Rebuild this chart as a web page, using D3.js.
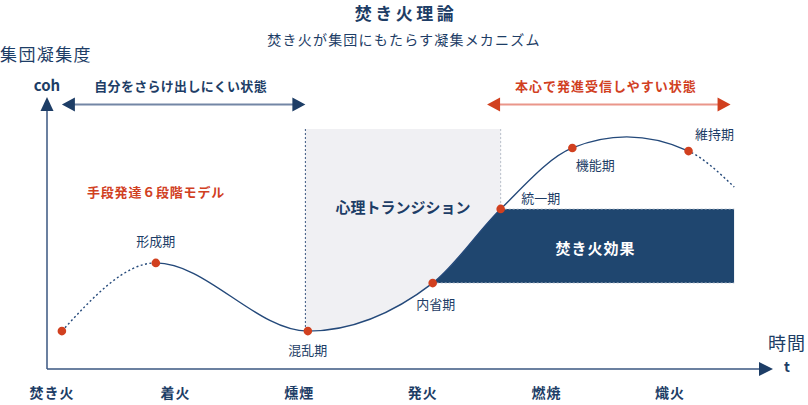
<!DOCTYPE html>
<html>
<head>
<meta charset="utf-8">
<script src="https://cdn.jsdelivr.net/npm/d3@7"></script>
<style>
    body { margin: 0; background: #fff; }
    text { font-family: "Noto Sans CJK JP", "Noto Sans", sans-serif; }
</style>
</head>
<body>
<div id="chart"></div>
<script>
// chart values
const stageLabels = ['焚き火', '着火', '燻煙', '発火', '燃焼', '熾火'];
const phaseNames = ['', '形成期', '混乱期', '内省期', '統一期', '機能期', '', '維持期', ''];
const phaseTime = [0.08, 0.84, 2.07, 3.08, 3.63, 4.21, 4.65, 5.15, 5.52];
const phaseCoh = [15.8, 44.2, 15.8, 35.8, 66.7, 92.1, 96.7, 90.8, 75.8];
const rangeLabels = ['自分をさらけ出しにくい状態', '本心で発進受信しやすい状態'];
const rangeStart = [0.08, 3.52];
const rangeEnd = [2.05, 5.49];

// set the area for the SVG element
const svgWidth = 808;
const svgHeight = 405;

var navy = '#1d3d66';
var fillNavy = '#1f466f';
var red = '#d1401f';

var svg = d3.select('#chart')
    .append('svg')
    .attr('width', svgWidth)
    .attr('height', svgHeight);

// scales: stage ticks sit on whole numbers
var xScale = d3.scaleLinear()
    .domain([0, 5])
    .range([52, 670]);

var yScale = d3.scaleLinear()
    .domain([0, 100])
    .range([369, 129]);

var originX = 47;
var originY = 369;

var points = phaseTime.map((t, i) => ({ t: t, c: phaseCoh[i], name: phaseNames[i] }));

var curveLine = d3.line()
    .x(d => xScale(d.t))
    .y(d => yScale(d.c))
    .curve(d3.curveMonotoneX);

var defs = svg.append('defs');

function clipRect(id, x0, x1, y0, y1) {
    defs.append('clipPath').attr('id', id)
        .append('rect')
        .attr('x', x0).attr('y', y0)
        .attr('width', x1 - x0).attr('height', y1 - y0);
}

var xTransStart = rangeEnd[0];
var xTransEnd = phaseTime[4];

// grey transition zone above the curve
clipRect('clipTrans', xScale(xTransStart), xScale(xTransEnd), 0, svgHeight);
svg.append('path')
    .datum(points)
    .attr('clip-path', 'url(#clipTrans)')
    .attr('fill', '#f0f0f3')
    .attr('d', d3.area()
        .x(d => xScale(d.t))
        .y0(yScale(100))
        .y1(d => yScale(d.c))
        .curve(d3.curveMonotoneX));

// navy effect block below the curve
clipRect('clipEffect', xScale(phaseTime[3]), xScale(phaseTime[8]), yScale(phaseCoh[4]), yScale(phaseCoh[3]));
svg.append('path')
    .datum(points)
    .attr('clip-path', 'url(#clipEffect)')
    .attr('fill', fillNavy)
    .attr('d', d3.area()
        .x(d => xScale(d.t))
        .y0(originY)
        .y1(d => yScale(d.c))
        .curve(d3.curveMonotoneX));

// dotted edges of the effect block
svg.append('line')
    .attr('x1', xScale(phaseTime[4])).attr('x2', xScale(phaseTime[8]))
    .attr('y1', yScale(phaseCoh[4])).attr('y2', yScale(phaseCoh[4]))
    .attr('stroke', '#c9d0da').attr('stroke-dasharray', '2,2');
svg.append('line')
    .attr('x1', xScale(phaseTime[3])).attr('x2', xScale(phaseTime[8]))
    .attr('y1', yScale(phaseCoh[3])).attr('y2', yScale(phaseCoh[3]))
    .attr('stroke', '#c9d0da').attr('stroke-dasharray', '2,2');

// zone borders
svg.append('line')
    .attr('x1', xScale(xTransStart)).attr('x2', xScale(xTransStart))
    .attr('y1', yScale(100)).attr('y2', yScale(phaseCoh[2]))
    .attr('stroke', '#3a5680').attr('stroke-dasharray', '2,2');
svg.append('line')
    .attr('x1', xScale(xTransEnd)).attr('x2', xScale(xTransEnd))
    .attr('y1', yScale(100)).attr('y2', yScale(phaseCoh[4]))
    .attr('stroke', '#b8bfca').attr('stroke-dasharray', '2,2');

// the curve: dotted at both ends, solid in the middle
var solidFrom = xScale(phaseTime[1]);
var solidTo = xScale(phaseTime[7]);
clipRect('clipA', 0, solidFrom, 0, svgHeight);
clipRect('clipB', solidFrom, solidTo, 0, svgHeight);
clipRect('clipC', solidTo, svgWidth, 0, svgHeight);

[['clipA', '2,2.5'], ['clipB', null], ['clipC', '2,2.5']].forEach(function(c) {
    svg.append('path')
        .datum(points)
        .attr('clip-path', `url(#${c[0]})`)
        .attr('fill', 'none')
        .attr('stroke', '#24497a')
        .attr('stroke-width', 1.4)
        .attr('stroke-dasharray', c[1])
        .attr('d', curveLine);
});

// phase dots
var named = points.filter((d, i) => i === 0 || d.name !== '');
svg.selectAll('circle.phase')
    .data(named)
    .enter()
    .append('circle')
    .attr('class', 'phase')
    .attr('cx', d => xScale(d.t))
    .attr('cy', d => yScale(d.c))
    .attr('r', 4.3)
    .attr('fill', red);

// phase labels (offset from their dot)
var labelOffset = {
    '形成期': [0, -17],
    '混乱期': [0, 24],
    '内省期': [3, 26],
    '統一期': [40, -6],
    '機能期': [23, 22],
    '維持期': [26, -12]
};
svg.selectAll('text.phase')
    .data(points.filter(d => d.name !== ''))
    .enter()
    .append('text')
    .attr('class', 'phase')
    .attr('x', d => xScale(d.t) + labelOffset[d.name][0])
    .attr('y', d => yScale(d.c) + labelOffset[d.name][1])
    .attr('text-anchor', 'middle')
    .style('font-size', '13px')
    .style('fill', navy)
    .text(d => d.name);

// axes
svg.append('line')
    .attr('x1', originX).attr('x2', originX)
    .attr('y1', originY).attr('y2', 108)
    .attr('stroke', '#3a5680').attr('stroke-width', 1.5);
svg.append('path')
    .attr('d', `M${originX - 6.5},111 L${originX + 6.5},111 L${originX},97 Z`)
    .attr('fill', navy);
svg.append('line')
    .attr('x1', originX).attr('x2', 762)
    .attr('y1', originY).attr('y2', originY)
    .attr('stroke', '#3a5680').attr('stroke-width', 1.5);
svg.append('path')
    .attr('d', `M759,${originY - 7} L759,${originY + 7} L773,${originY} Z`)
    .attr('fill', navy);

// stage labels under the x axis
svg.selectAll('text.stage')
    .data(stageLabels)
    .enter()
    .append('text')
    .attr('class', 'stage')
    .attr('x', (d, i) => xScale(i))
    .attr('y', 398)
    .attr('text-anchor', 'middle')
    .style('font-size', '14px')
    .style('font-weight', 'bold')
    .style('letter-spacing', '1px')
    .style('fill', navy)
    .text(d => d);

// double headed range arrows
var arrowColors = [['#7386a5', navy], ['#ea968a', red]];
rangeLabels.forEach(function(label, i) {
    var x0 = xScale(rangeStart[i]);
    var x1 = xScale(rangeEnd[i]);
    var ay = 104.5;
    svg.append('line')
        .attr('x1', x0 + 10).attr('x2', x1 - 10)
        .attr('y1', ay).attr('y2', ay)
        .attr('stroke', arrowColors[i][0]).attr('stroke-width', 2);
    svg.append('path')
        .attr('d', `M${x0},${ay} L${x0 + 13},${ay - 7} L${x0 + 13},${ay + 7} Z M${x1},${ay} L${x1 - 13},${ay - 7} L${x1 - 13},${ay + 7} Z`)
        .attr('fill', arrowColors[i][1]);
    svg.append('text')
        .attr('x', (x0 + x1) / 2 - 3)
        .attr('y', 91)
        .attr('text-anchor', 'middle')
        .style('font-size', '13px')
        .style('font-weight', 'bold')
        .style('letter-spacing', i === 0 ? '0.3px' : '1px')
        .style('fill', arrowColors[i][1])
        .text(label);
});

// titles and axis labels
svg.append('text')
    .attr('x', 406).attr('y', 20)
    .attr('text-anchor', 'middle')
    .style('font-size', '17px').style('font-weight', 'bold')
    .style('letter-spacing', '3.5px')
    .style('fill', navy)
    .text('焚き火理論');

svg.append('text')
    .attr('x', 404).attr('y', 45)
    .attr('text-anchor', 'middle')
    .style('font-size', '14px')
    .style('letter-spacing', '1.2px')
    .style('fill', navy)
    .text('焚き火が集団にもたらす凝集メカニズム');

svg.append('text')
    .attr('x', 0).attr('y', 61)
    .style('font-size', '17px')
    .style('letter-spacing', '1.4px')
    .style('fill', navy)
    .text('集団凝集度');

svg.append('text')
    .attr('x', 47).attr('y', 91)
    .attr('text-anchor', 'middle')
    .style('font-size', '15px').style('font-weight', 'bold')
    .style('fill', navy)
    .text('coh');

svg.append('text')
    .attr('x', 787).attr('y', 350)
    .attr('text-anchor', 'middle')
    .style('font-size', '18px')
    .style('letter-spacing', '1px')
    .style('fill', navy)
    .text('時間');

svg.append('text')
    .attr('x', 787).attr('y', 372)
    .attr('text-anchor', 'middle')
    .style('font-size', '14px').style('font-weight', 'bold')
    .style('fill', navy)
    .text('t');

// annotations inside the plot
svg.append('text')
    .attr('x', 87).attr('y', 197)
    .style('font-size', '13px').style('font-weight', 'bold')
    .style('letter-spacing', '0.8px')
    .style('fill', red)
    .text('手段発達６段階モデル');

svg.append('text')
    .attr('x', (xScale(xTransStart) + xScale(xTransEnd)) / 2).attr('y', 213)
    .attr('text-anchor', 'middle')
    .style('font-size', '15px').style('font-weight', 'bold')
    .style('fill', navy)
    .text('心理トランジション');

svg.append('text')
    .attr('x', (xScale(phaseTime[3]) + xScale(phaseTime[8])) / 2 + 12).attr('y', 254)
    .attr('text-anchor', 'middle')
    .style('font-size', '15px').style('font-weight', 'bold')
    .style('letter-spacing', '1px')
    .style('fill', '#fff')
    .text('焚き火効果');
</script>
</body>
</html>
